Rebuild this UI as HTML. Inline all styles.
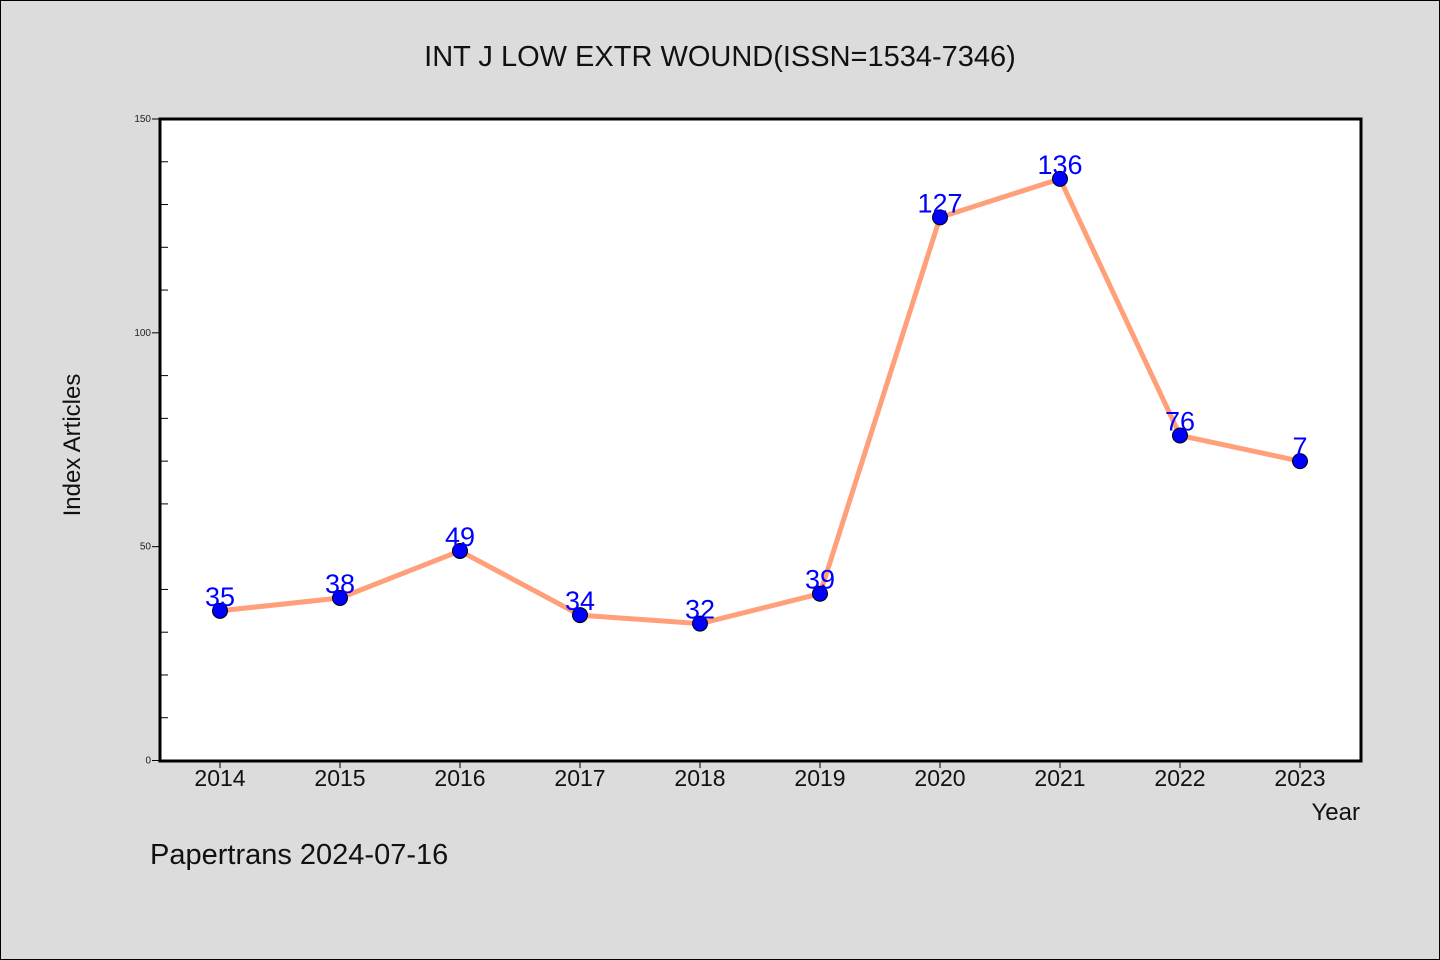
<!DOCTYPE html>
<html><head><meta charset="utf-8"><style>
html,body{margin:0;padding:0;background:#dcdcdc;}
svg{display:block;font-family:"WenQuanYi Zen Hei","Liberation Sans",sans-serif;}
</style></head><body>
<svg id="chart" width="1440" height="960" xmlns="http://www.w3.org/2000/svg">
<rect x="0.5" y="0.5" width="1439" height="959" fill="#dcdcdc" stroke="#000" stroke-width="1"/>
<text x="720" y="66" text-anchor="middle" font-size="29" fill="#111">INT J LOW EXTR WOUND(ISSN=1534-7346)</text>
<rect x="160" y="119" width="1201" height="642" fill="#fff"/>
<g id="yaxis"></g>
<g id="xaxis"></g>
<g id="series"></g>
<rect x="160" y="119" width="1201" height="642" fill="none" stroke="#000" stroke-width="3"/>
<text x="80" y="445" text-anchor="middle" font-size="24" fill="#111" transform="rotate(-90 80 445)">Index Articles</text>
<text x="1360" y="820" text-anchor="end" font-size="24" fill="#111">Year</text>
<text x="150" y="864" font-size="29" fill="#111">Papertrans 2024-07-16</text>
</svg>
<script>
const years = ["2014","2015","2016","2017","2018","2019","2020","2021","2022","2023"];
const values = [35,38,49,34,32,39,127,136,76,70];
const valueLabels = ["35","38","49","34","32","39","127","136","76","7"];
const yTicks = [0,50,100,150];
const NS="http://www.w3.org/2000/svg";
const x0=220, dx=120;
function xs(i){return x0+i*dx;}
function ys(v){return 760.5-(v/150)*641.5;}
function mk(t,a,p){const e=document.createElementNS(NS,t);for(const k in a)e.setAttribute(k,a[k]);p.appendChild(e);return e;}
const ya=document.getElementById('yaxis'), xa=document.getElementById('xaxis'), sr=document.getElementById('series');
for(let v=0;v<=150;v+=10){
  const y=ys(v);
  const major=yTicks.includes(v);
  const l=mk('line',{x1:major?152:160,x2:major?160:168,y1:y,y2:y,stroke:'#000','stroke-width':1},ya);
  
  
}
yTicks.forEach(v=>{
  const t=mk('text',{x:151,y:ys(v)+3,'text-anchor':'end','font-size':10,fill:'#222'},ya);
  t.textContent=v;
  
  
});
years.forEach((yr,i)=>{
  const l=mk('line',{x1:xs(i),x2:xs(i),y1:761,y2:768,stroke:'#000','stroke-width':1},xa);
  
  
  const t=mk('text',{x:xs(i),y:786,'text-anchor':'middle','font-size':23,fill:'#111'},xa);
  t.textContent=yr;
  
  
});
const pl=mk('polyline',{points:values.map((v,i)=>xs(i)+','+ys(v)).join(' '),fill:'none',stroke:'#ffa07a','stroke-width':5,'stroke-linejoin':'round'},sr);


values.forEach((v,i)=>{
  const c=mk('circle',{cx:xs(i),cy:ys(v),r:7.5,fill:'#0000ff',stroke:'#000','stroke-width':1},sr);
  
  
  const t=mk('text',{x:xs(i),y:ys(v)-5,'text-anchor':'middle','font-size':27,fill:'#0000ff'},sr);
  t.textContent=valueLabels[i];
  
  
});
</script>
</body></html>
